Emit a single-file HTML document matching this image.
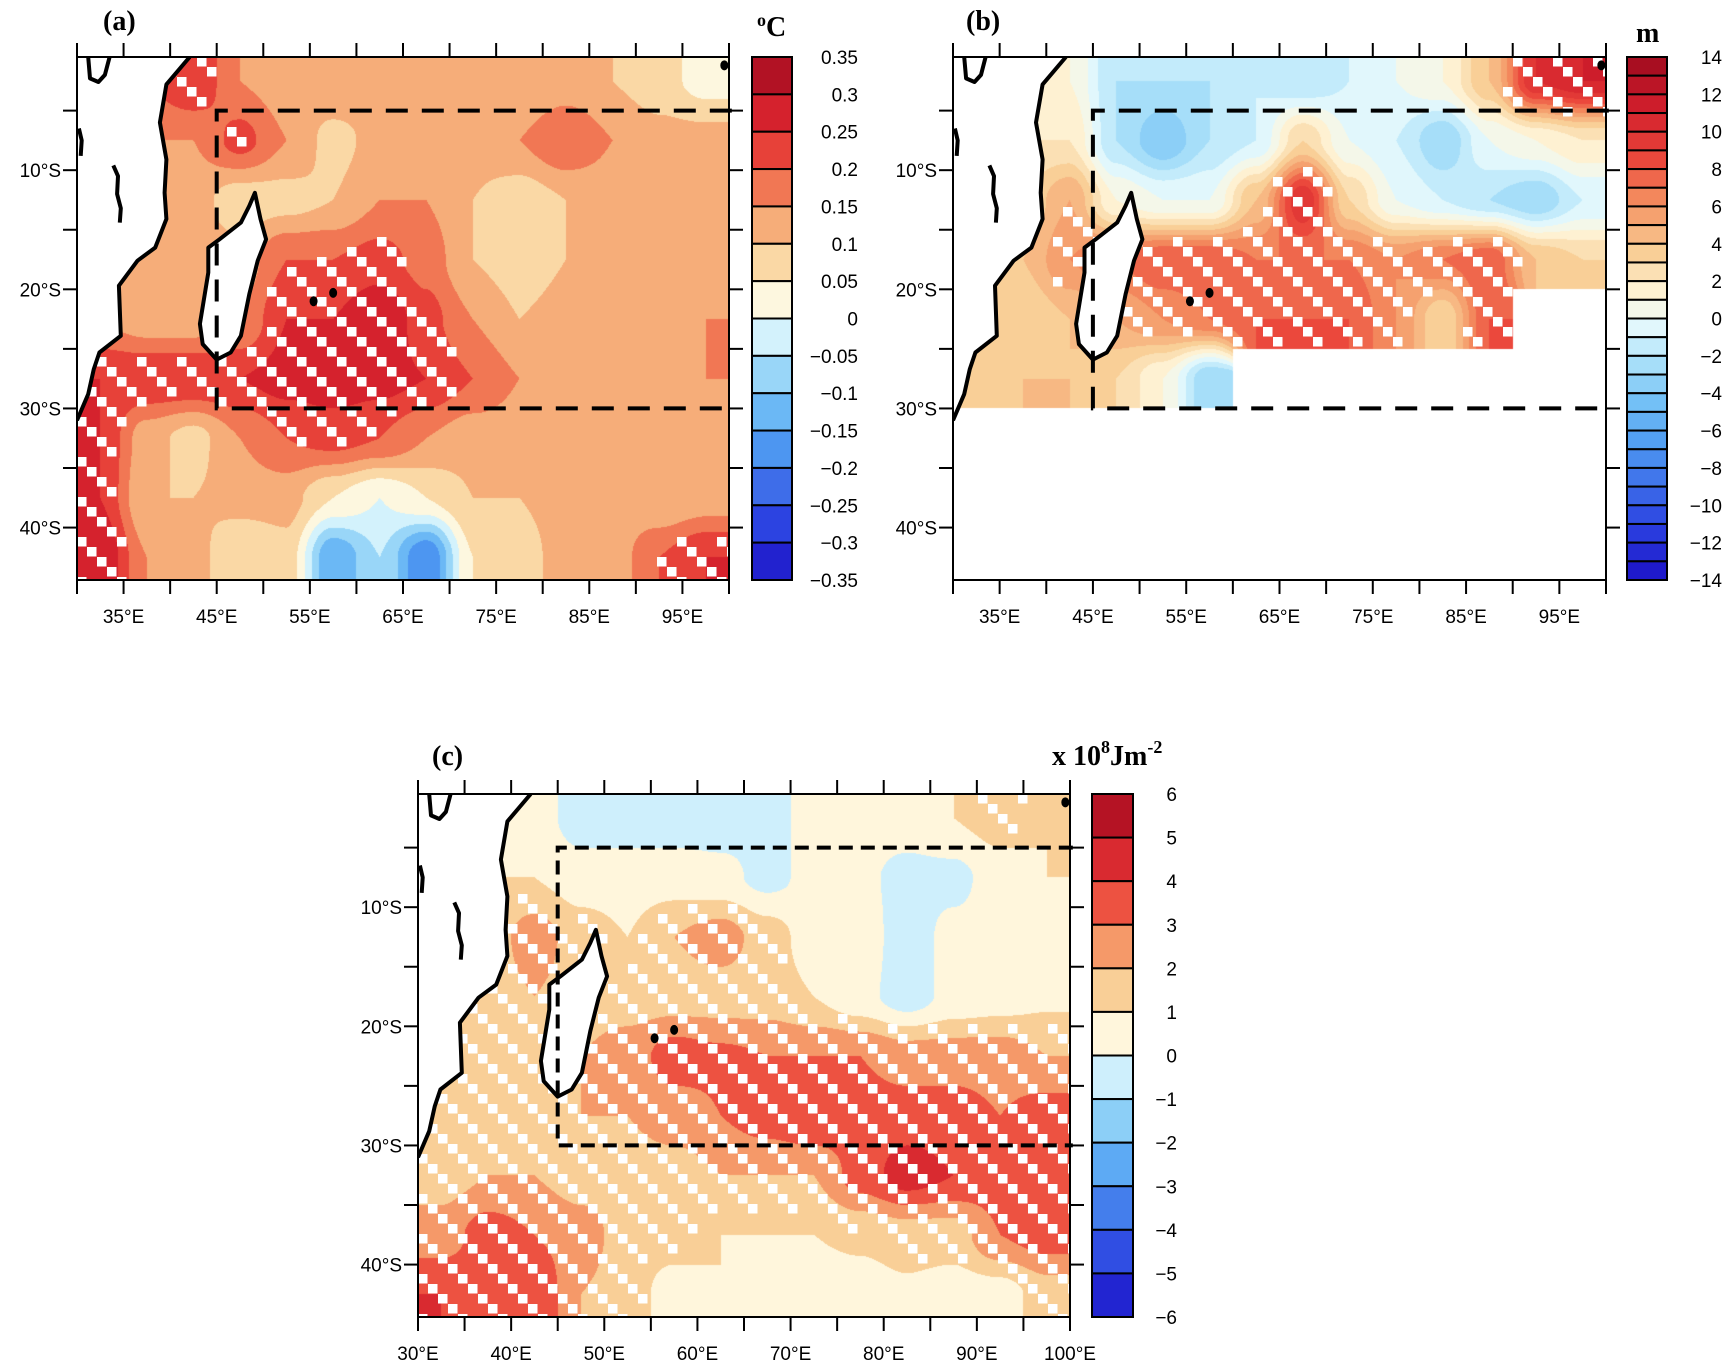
<!DOCTYPE html>
<html><head><meta charset="utf-8">
<style>
html,body{margin:0;padding:0;background:#fff;}
body{width:1725px;height:1365px;position:relative;overflow:hidden;font-family:"Liberation Sans",sans-serif;}
canvas{position:absolute;}
svg{position:absolute;left:0;top:0;}
</style></head>
<body>
<canvas id="cva" width="652" height="523" style="left:77px;top:57px"></canvas>
<canvas id="cvb" width="653" height="523" style="left:953px;top:57px"></canvas>
<canvas id="cvc" width="652" height="523" style="left:418px;top:794px"></canvas>
<svg id="ov" width="1725" height="1365" viewBox="0 0 1725 1365"></svg>
<script>
// ---- data ----
const lonCenters=[32.5,37.5,42.5,47.5,52.5,57.5,62.5,67.5,72.5,77.5,82.5,87.5,92.5,97.5];
const latCenters=[-2.5,-7.5,-12.5,-17.5,-22.5,-27.5,-32.5,-37.5,-42.5];
const sstGrid=[
[0.15,0.2,0.25,0.15,0.12,0.15,0.12,0.1,0.12,0.1,0.12,0.1,0.07,0.03],
[0.15,0.15,0.15,0.22,0.15,0.08,0.12,0.15,0.12,0.15,0.2,0.15,0.12,0.12],
[0.12,0.1,0.12,0.07,0.08,0.1,0.15,0.15,0.1,0.07,0.1,0.12,0.12,0.15],
[0.12,0.12,0.12,0.12,0.2,0.2,0.22,0.18,0.1,0.07,0.1,0.12,0.1,0.12],
[0.15,0.12,0.12,0.15,0.25,0.25,0.3,0.22,0.15,0.1,0.12,0.12,0.12,0.15],
[0.25,0.25,0.25,0.25,0.27,0.28,0.27,0.25,0.2,0.15,0.15,0.15,0.15,0.15],
[0.25,0.12,0.08,0.15,0.2,0.22,0.2,0.15,0.12,0.12,0.1,0.1,0.12,0.12],
[0.25,0.1,0.1,0.12,0.12,0.05,0.0,0.05,0.1,0.1,0.12,0.12,0.1,0.12],
[0.3,0.15,0.12,0.05,0.08,-0.15,-0.05,-0.2,0.05,0.08,0.12,0.12,0.2,0.25]];
const sshGrid=[
[1,1,1,-2,-2,-2,-1,-2,-1,0,1,4,10,11],
[2,2,2,-2,-4,-2,-1,3,0,-1,-3,0,1,2],
[3,3,5,1,0,0,4,10,3,0,-1,-2,-3,-1],
[3,4,6,7,8,8,7,7,7,6,7,8,4,3],
[3,3,4,5,6,7,8,8,8,6,3,8,null,null],
[3,4,4,3,1,-3,null,null,null,null,null,null,null,null],
[null,null,null,null,null,null,null,null,null,null,null,null,null,null],
[null,null,null,null,null,null,null,null,null,null,null,null,null,null],
[null,null,null,null,null,null,null,null,null,null,null,null,null,null]];
const ohcGrid=[
[0.5,0.5,0.5,-0.5,-0.5,-0.5,-0.5,-0.3,0.3,0.5,0.5,1,1.5,1],
[1,1,1,0.5,0.5,0.5,0.3,-0.3,0.3,0.2,-0.3,-0.3,0.5,1],
[1.5,1.5,2.5,1.5,1,2,2.5,1.5,0.5,0.5,-0.5,0.3,0.5,0.8],
[1.5,1.5,2,1.5,1.5,1.5,1.5,1.5,1,0.3,-0.5,0.3,0.5,0.8],
[1.5,1.5,1.8,2,2.5,3.5,3.2,3,3,3,2.5,2.5,2.5,2],
[1.2,1.5,1.5,2,2,2.5,3,3.5,4,3.5,3.5,3.5,3,3.5],
[1.5,2,2,1.5,1.5,1.5,2,2,2,3.5,4.5,4,3.5,3.5],
[2.5,3.5,3,2.5,1.5,1.5,1,1,1,1.2,1.5,1.5,3,3.5],
[4,3.5,4,2,1.5,0.5,1,0.5,0.5,0.5,0.8,0.5,0.5,1.5]];
const sstLabels=["0.35","0.3","0.25","0.2","0.15","0.1","0.05","0","−0.05","−0.1","−0.15","−0.2","−0.25","−0.3","−0.35"];
const sshLabels=["14","12","10","8","6","4","2","0","−2","−4","−6","−8","−10","−12","−14"];
const ohcLabels=["6","5","4","3","2","1","0","−1","−2","−3","−4","−5","−6"];
const lonTicksAB=["35°E","45°E","55°E","65°E","75°E","85°E","95°E"];
const lonTickValsAB=[35,45,55,65,75,85,95];
const lonTicksC=["30°E","40°E","50°E","60°E","70°E","80°E","90°E","100°E"];
const lonTickValsC=[30,40,50,60,70,80,90,100];
const latTicks=["10°S","20°S","30°S","40°S"];
const latTickVals=[-10,-20,-30,-40];
const africa=[[42.1,-0.5],[39.6,-2.8],[38.9,-6],[39.6,-9.1],[39.4,-11.9],[39.6,-14.1],[38.4,-16.5],[36.5,-17.6],[34.5,-19.7],[34.7,-23.9],[32.4,-25.3],[31.8,-26.7],[31.2,-28.8],[30,-31]];
const madagascar=[[49.1,-11.9],[49.7,-14.1],[50.3,-15.8],[49.4,-17.6],[48.5,-20.4],[47.6,-23.9],[46.5,-25.3],[45,-25.9],[43.5,-24.6],[43.2,-22.9],[44.1,-18.6],[44.1,-16.5],[45.3,-15.8],[47.6,-14.4],[48.5,-13]];
const lakeA=[[30.2,-6.5],[30.5,-7.5],[30.4,-8.8]];
const lakeB=[[33.9,-9.6],[34.4,-10.5],[34.3,-12],[34.7,-13.2],[34.6,-14.4]];
const lakeV=[[31.2,-0.5],[31.4,-2.3],[32.3,-2.6],[33.0,-2.0],[33.5,-0.5]];
const dots=[[55.4,-21],[57.5,-20.3],[99.5,-1.2]];
const boxRegion={lonW:45,lonE:100,latN:-5,latS:-30};

// ---- palette ----
const stops=["#1d12c6","#2a3fe0","#3e6ee9","#4f9cf2","#73c0f6","#ade2f9","#e0f7fd","#fff7dd","#f9d29a","#f49262","#ec4a3d","#d31f2c","#9f0a1f"];
function hex(c){return [parseInt(c.slice(1,3),16),parseInt(c.slice(3,5),16),parseInt(c.slice(5,7),16)];}
const stopRGB=stops.map(hex);
function palette(t){
  const pos=[0,0.1,0.18,0.26,0.34,0.42,0.48,0.54,0.62,0.72,0.8,0.9,1];
  for(let i=0;i<pos.length-1;i++){ if(t<=pos[i+1]){const f=(t-pos[i])/(pos[i+1]-pos[i]);return stopRGB[i].map((v,k)=>Math.round(v+(stopRGB[i+1][k]-v)*f));}}
  return stopRGB[stopRGB.length-1];
}
const panels=[
 {id:'a',cv:'cva',grid:sstGrid,x0:77,y0:57,w:652,h:523,min:-0.35,max:0.35,n:14,thr:0.2,cb:[752,792],labels:sstLabels,lx:858,lonT:lonTicksAB,lonV:lonTickValsAB},
 {id:'b',cv:'cvb',grid:sshGrid,x0:953,y0:57,w:653,h:523,min:-14,max:14,n:28,thr:5,cb:[1627,1667],labels:sshLabels,lx:1722,lonT:lonTicksAB,lonV:lonTickValsAB},
 {id:'c',cv:'cvc',grid:ohcGrid,x0:418,y0:794,w:652,h:523,min:-6,max:6,n:12,thr:1.2,cb:[1092,1133],labels:ohcLabels,lx:1177,lonT:lonTicksC,lonV:lonTickValsC}
];
function binColor(p,v){let k=Math.floor((v-p.min)/(p.max-p.min)*p.n);k=Math.max(0,Math.min(p.n-1,k));return palette((k+0.5)/p.n);}
function X(p,lon){return p.x0+(lon-30)/70*p.w;}
function Y(p,lat){return p.y0+(-0.5-lat)/43.9*p.h;}
function ss(t){return t*t*(3-2*t);}
function sample(g,lon,lat){
  let fx=(lon-lonCenters[0])/5, fy=(latCenters[0]-lat)/5;
  fx=Math.max(0,Math.min(lonCenters.length-1,fx)); fy=Math.max(0,Math.min(latCenters.length-1,fy));
  const nx=Math.round(fx), ny=Math.round(fy);
  if(g[ny][nx]===null) return null;
  const i0=Math.floor(fx),j0=Math.floor(fy),i1=Math.min(i0+1,lonCenters.length-1),j1=Math.min(j0+1,latCenters.length-1);
  const ax=ss(fx-i0), ay=ss(fy-j0);
  const c=[[g[j0][i0],(1-ax)*(1-ay)],[g[j0][i1],ax*(1-ay)],[g[j1][i0],(1-ax)*ay],[g[j1][i1],ax*ay]];
  let s=0,w=0;for(const [v,wt] of c){if(v!==null){s+=v*wt;w+=wt;}}
  return w>0?s/w:null;
}
// ---- draw fields ----
for(const p of panels){
  const cv=document.getElementById(p.cv),ctx=cv.getContext('2d');
  const img=ctx.createImageData(cv.width,cv.height);
  for(let y=0;y<cv.height;y++)for(let x=0;x<cv.width;x++){
    const lon=30+(x+0.5)/p.w*70, lat=-0.5-(y+0.5)/p.h*43.9;
    const v=sample(p.grid,lon,lat); const o=(y*cv.width+x)*4;
    let c=[255,255,255]; if(v!==null) c=binColor(p,v);
    img.data[o]=c[0];img.data[o+1]=c[1];img.data[o+2]=c[2];img.data[o+3]=255;
  }
  ctx.putImageData(img,0,0);
}
// ---- overlay ----
const NS="http://www.w3.org/2000/svg", ov=document.getElementById('ov');
function mk(tag,attrs,parent){const e=document.createElementNS(NS,tag);for(const k in attrs)e.setAttribute(k,attrs[k]);(parent||ov).appendChild(e);return e;}
function pts(p,arr){return arr.map(q=>X(p,q[0]).toFixed(1)+","+Y(p,q[1]).toFixed(1)).join(" ");}
for(const p of panels){
  const g=mk('g',{});
  
  
  const cp=mk('clipPath',{id:'clip'+p.id},g); mk('rect',{x:p.x0,y:p.y0,width:p.w,height:p.h},cp);
  const inner=mk('g',{'clip-path':'url(#clip'+p.id+')'},g);
  
  
  const step=10,sz=9.5;
  for(let j=0;j*step<p.h;j++)for(let i=0;i*step<p.w;i++){
    if(((i-j)%4+4)%4!==0) continue;
    const cx=p.x0+i*step+sz/2, cy=p.y0+j*step+sz/2;
    const lon=30+(cx-p.x0)/p.w*70, lat=-0.5-(cy-p.y0)/p.h*43.9;
    const v=sample(p.grid,lon,lat);
    if(v===null||Math.abs(v)<p.thr) continue;
    const r=mk('rect',{x:(p.x0+i*step).toFixed(1),y:(p.y0+j*step).toFixed(1),width:sz,height:sz,fill:'#fff'},inner);
    
    
  }
  const af=mk('polygon',{points:pts(p,africa.concat([[29,-31],[29,1],[42.1,1]])),fill:'#fff',stroke:'none'},inner);
  
  
  const cl=mk('polyline',{points:pts(p,africa),fill:'none',stroke:'#000','stroke-width':4,'stroke-linejoin':'round'},inner);
  
  
  const md=mk('polygon',{points:pts(p,madagascar),fill:'#fff',stroke:'#000','stroke-width':4,'stroke-linejoin':'round'},inner);
  
  
  for(const lk of [lakeA,lakeB,lakeV]){
    const l=mk('polyline',{points:pts(p,lk),fill:'none',stroke:'#000','stroke-width':4,'stroke-linejoin':'round'},inner);
    
    
  }
  for(const d of dots){
    const c=mk('ellipse',{cx:X(p,d[0]),cy:Y(p,d[1]),rx:4,ry:5,fill:'#000'},inner);
    
    
  }
  const bx=mk('polyline',{points:pts(p,[[boxRegion.lonE+0.3,boxRegion.latN],[boxRegion.lonW,boxRegion.latN],[boxRegion.lonW,boxRegion.latS],[boxRegion.lonE+0.3,boxRegion.latS]]),fill:'none',stroke:'#000','stroke-width':4,'stroke-dasharray':p.id==='c'?'14,8':'22,14'},g);
  
  
  const fr=mk('rect',{x:p.x0,y:p.y0,width:p.w,height:p.h,fill:'none',stroke:'#000','stroke-width':2},g);
  
  
  for(let lon=30;lon<=100;lon+=5){
    const x=X(p,lon);
    const t1=mk('line',{x1:x,y1:p.y0,x2:x,y2:p.y0-14,stroke:'#000','stroke-width':2},g);
    
    
    const t2=mk('line',{x1:x,y1:p.y0+p.h,x2:x,y2:p.y0+p.h+14,stroke:'#000','stroke-width':2},g);
    
    
  }
  for(let lat=-5;lat>=-40;lat-=5){
    const y=Y(p,lat);
    const t1=mk('line',{x1:p.x0,y1:y,x2:p.x0-14,y2:y,stroke:'#000','stroke-width':2},g);
    
    
    const t2=mk('line',{x1:p.x0+p.w,y1:y,x2:p.x0+p.w+14,y2:y,stroke:'#000','stroke-width':2},g);
    
    
  }
  p.lonV.forEach((lon,k)=>{
    const t=mk('text',{x:X(p,lon),y:p.y0+p.h+43,'text-anchor':'middle','font-size':19,'font-family':'Liberation Sans, sans-serif'},g);
    t.textContent=p.lonT[k];
    
    
  });
  latTickVals.forEach((lat,k)=>{
    const t=mk('text',{x:p.x0-16,y:Y(p,lat)+7,'text-anchor':'end','font-size':19,'font-family':'Liberation Sans, sans-serif'},g);
    t.textContent=latTicks[k];
    
    
  });
  const cbH=p.h, bh=cbH/p.n;
  for(let k=0;k<p.n;k++){
    const c=palette((p.n-1-k+0.5)/p.n);
    const r=mk('rect',{x:p.cb[0],y:p.y0+k*bh,width:p.cb[1]-p.cb[0],height:bh,fill:'rgb('+c.join(',')+')',stroke:'#000','stroke-width':2},g);
    
    
  }
  const lstep=cbH/(p.labels.length-1);
  p.labels.forEach((s,k)=>{
    const t=mk('text',{x:p.lx,y:p.y0+k*lstep+7,'text-anchor':'end','font-size':19,'font-family':'Liberation Sans, sans-serif'},g);
    t.textContent=s;
    
    
  });
}
</script>
<svg width="1725" height="1365" style="position:absolute;left:0;top:0;pointer-events:none">
<g font-family="Liberation Serif, serif" font-weight="bold" fill="#000">
<text x="103" y="30" font-size="28">(a)</text>
<text x="966" y="30" font-size="28">(b)</text>
<text x="432" y="765" font-size="28">(c)</text>
<text x="757" y="36" font-size="28"><tspan font-size="18" dy="-10">o</tspan><tspan dy="10">C</tspan></text>
<text x="1636" y="42" font-size="28">m</text>
<text x="1052" y="765" font-size="28">x 10<tspan font-size="18" dy="-12">8</tspan><tspan dy="12">Jm</tspan><tspan font-size="18" dy="-12">-2</tspan></text>
</g>
</svg>
</body></html>
